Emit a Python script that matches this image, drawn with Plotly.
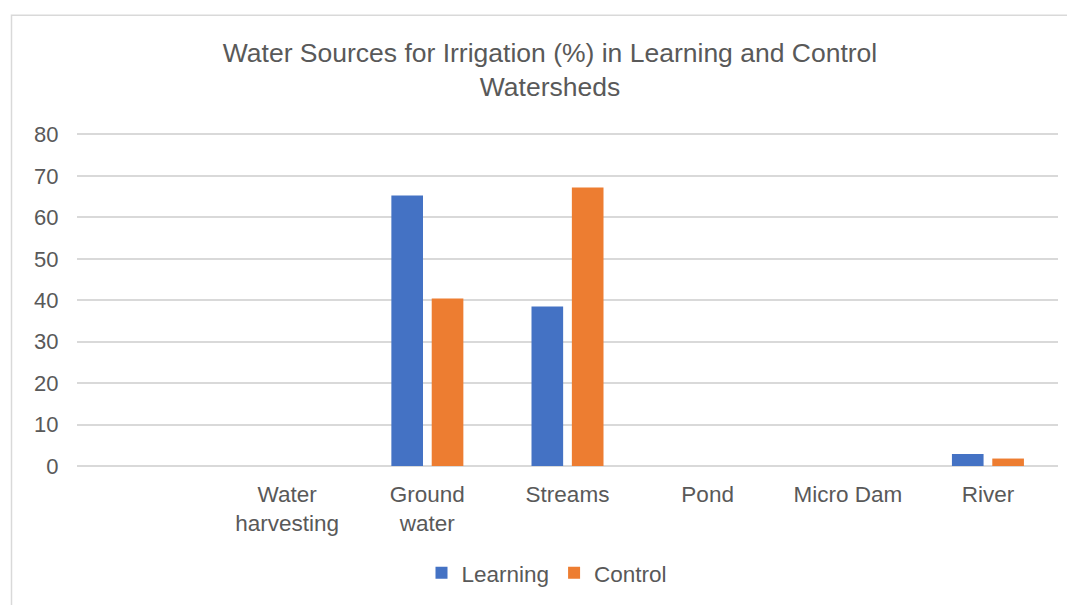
import plotly.graph_objects as go

categories = ["", "Water<br>harvesting", "Ground<br>water", "Streams", "Pond", "Micro Dam", "River"]
learning = [None, 0, 65.3, 38.5, 0, 0, 2.9]
control = [None, 0, 40.4, 67.2, 0, 0, 1.8]
y_ticks = [0, 10, 20, 30, 40, 50, 60, 70, 80]

W, H = 1075, 605
OFF = 8  # page body margin
YMAX = 80.6
px_per_unit = 332.5 / 80
plot_left, plot_right = 77 - OFF, 1058 - OFF
plot_bottom = 466.5 - OFF
plot_top = plot_bottom - px_per_unit * YMAX
L, R, T, B = plot_left, W - plot_right, plot_top, H - plot_bottom
pw, ph = W - L - R, H - T - B

fig = go.Figure()
fig.add_trace(go.Bar(name="Learning", x=categories, y=learning, marker=dict(color="#4472C4", line=dict(width=0))))
fig.add_trace(go.Bar(name="Control", x=categories, y=control, marker=dict(color="#ED7D31", line=dict(width=0))))

fig.update_layout(
    width=W, height=H,
    margin=dict(l=L, r=R, t=T, b=B, pad=0),
    paper_bgcolor="white", plot_bgcolor="white",
    font=dict(family="Liberation Sans, Arial, sans-serif", color="#595959"),
    title=dict(text="Water Sources for Irrigation (%) in Learning and Control<br>Watersheds",
               x=(550 - OFF) / W, xref="container", xanchor="center",
               y=1 - (62 - OFF) / H, yref="container", yanchor="top",
               font=dict(size=26.5, color="#595959")),
    barmode="group", bargap=0.424, bargroupgap=0.216,
    showlegend=True,
    legend=dict(orientation="h", x=(547 - OFF - L) / pw, xanchor="center",
                y=-(574 - OFF - plot_bottom) / ph, yanchor="middle",
                font=dict(size=22.5, color="#595959"), itemwidth=30, tracegroupgap=0, traceorder="normal"),
)
fig.update_xaxes(type="category", showgrid=False, showline=False, zeroline=False,
                 ticks="outside", ticklen=8, tickcolor="rgba(0,0,0,0)",
                 tickfont=dict(size=22.5, color="#595959"), fixedrange=True)
fig.update_yaxes(range=[0, YMAX], tickvals=y_ticks, showgrid=True, gridcolor="#D9D9D9", gridwidth=1.5,
                 zeroline=True, zerolinecolor="#D9D9D9", zerolinewidth=1.5, showline=False,
                 ticks="outside", ticklen=13, tickcolor="rgba(0,0,0,0)",
                 tickfont=dict(size=22, color="#595959"), fixedrange=True)

# chart-area border (left & top visible)
fig.add_shape(type="rect", xref="paper", yref="paper",
              x0=(11.5 - OFF - L) / pw, x1=(W + 20 - L) / pw,
              y0=-(H + 20 - T - ph) / ph, y1=1 + (T - (14.5 - OFF)) / ph,
              line=dict(color="#D9D9D9", width=1.5), fillcolor="rgba(0,0,0,0)", layer="below")

fig.write_html("out.html")
